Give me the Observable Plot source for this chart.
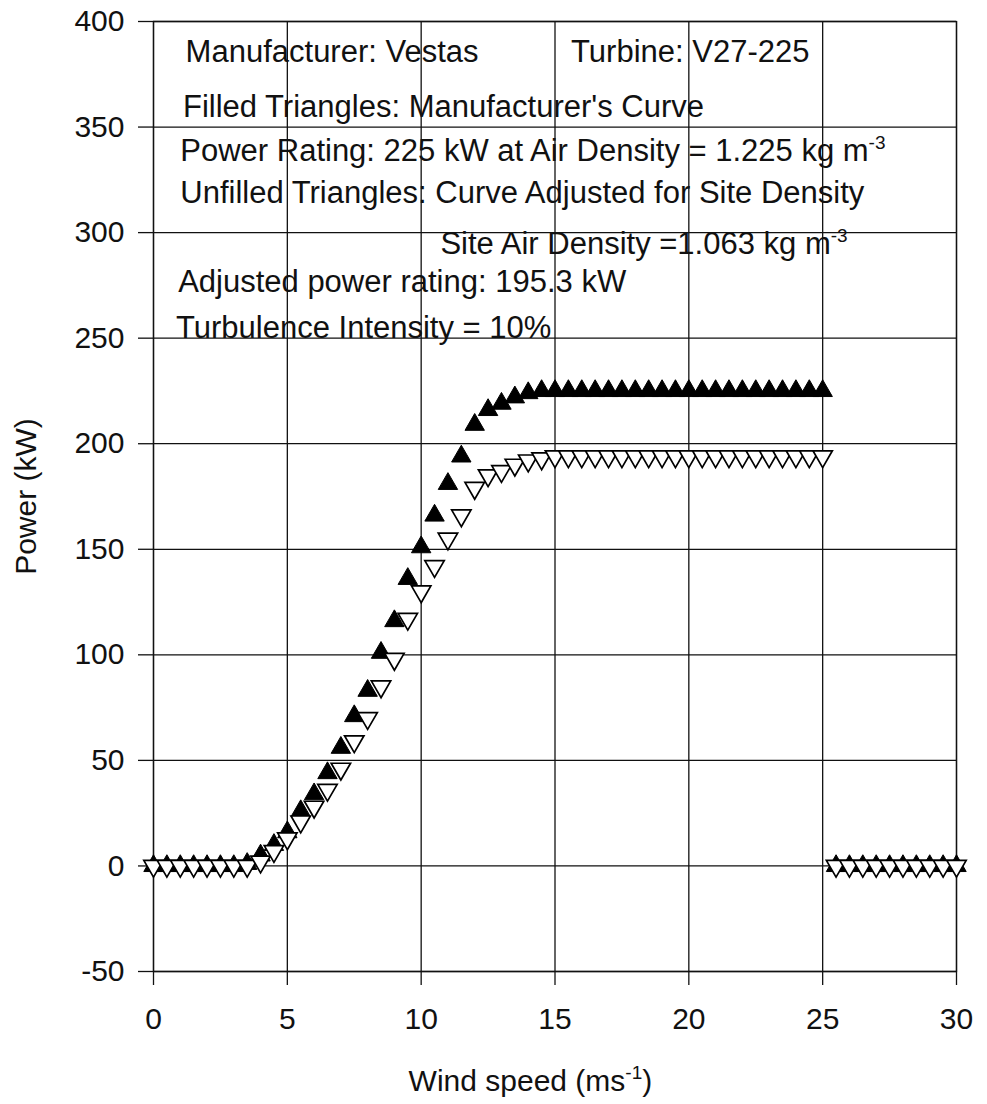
<!DOCTYPE html>
<html><head><meta charset="utf-8">
<script src="https://cdn.jsdelivr.net/npm/d3@7"></script>
<script src="https://cdn.jsdelivr.net/npm/@observablehq/plot@0.6"></script>
<style>html,body{margin:0;padding:0;background:#fff;} svg{display:block;}</style>
</head><body><div id="chart"></div>
<script>
// Wind speed (m/s)
const windSpeed = [0,0.5,1,1.5,2,2.5,3,3.5,4,4.5,5,5.5,6,6.5,7,7.5,8,8.5,9,9.5,10,10.5,11,11.5,12,12.5,13,13.5,14,14.5,15,15.5,16,16.5,17,17.5,18,18.5,19,19.5,20,20.5,21,21.5,22,22.5,23,23.5,24,24.5,25,25.5,26,26.5,27,27.5,28,28.5,29,29.5,30];
// Filled triangles: manufacturer's curve (kW)
const manufacturerPower = [0,0,0,0,0,0,0,1,5,10,16,26,34,44,56,71,83,101,116,136,151,166,181,194,209,216,219,222,224,225,
  225,225,225,225,225,225,225,225,225,225,225,225,225,225,225,225,225,225,225,225,225,
  0,0,0,0,0,0,0,0,0,0];
// Unfilled triangles: curve adjusted for site density (kW)
const adjustedPower = [0,0,0,0,0,0,0,0,2,7,13,21,28,36,46,59,70,85,98,117,130,142,155,166,179,185,187,190,192,193,
  194,194,194,194,194,194,194,194,194,194,194,194,194,194,194,194,194,194,194,194,194,
  0,0,0,0,0,0,0,0,0,0];

const xTicks = [0,5,10,15,20,25,30];
const yTicks = [-50,0,50,100,150,200,250,300,350,400];

const annotationTexts = [
  "Manufacturer: Vestas",
  "Turbine: V27-225",
  "Filled Triangles: Manufacturer's Curve",
  "Power Rating: 225 kW at Air Density = 1.225 kg m^-3",
  "Unfilled Triangles: Curve Adjusted for Site Density",
  "Site Air Density =1.063 kg m^-3",
  "Adjusted power rating: 195.3 kW",
  "Turbulence Intensity = 10%"
];
const xTitle = "Wind speed (ms^-1)";
const yTitle = "Power (kW)";

// layout (data-space anchor positions for the annotation text)
const annX = [1.2, 15.6, 1.1, 1.0, 1.0, 10.72, 0.92, 0.84];
const annY = [385.5, 385.5, 359.4, 338.4, 318.5, 294.8, 276.4, 255.0];

const pts = windSpeed.map((w, i) => ({w, m: manufacturerPower[i], a: adjustedPower[i]}));
const ann = annotationTexts.map((t, i) => ({t, x: annX[i], y: annY[i]}));

const ink = "#111";
const chart = Plot.plot({
  width: 987, height: 1104,
  marginLeft: 153, marginRight: 31, marginTop: 21, marginBottom: 133,
  style: {fontFamily: "'Liberation Sans', Arial, sans-serif", fontSize: "30px", background: "#fff", color: ink},
  x: {domain: [0, 30], label: null},
  y: {domain: [-50, 400], label: null},
  marks: [
    Plot.gridX(xTicks, {stroke: ink, strokeOpacity: 1, strokeWidth: 1.3}),
    Plot.gridY(yTicks, {stroke: ink, strokeOpacity: 1, strokeWidth: 1.3}),
    Plot.frame({stroke: ink, strokeWidth: 1.3}),
    Plot.axisX({ticks: xTicks, tickSize: 14, tickPadding: 22, tickFormat: d => String(d), label: null, strokeWidth: 1.3, fontSize: 30}),
    Plot.axisY({ticks: yTicks, tickSize: 15, tickPadding: 14, tickFormat: d => String(d), label: null, strokeWidth: 1.3, fontSize: 30}),
    Plot.dot(pts, {x: "w", y: "m", symbol: "triangle", r: 7.2, fill: "#000", stroke: "#000", strokeWidth: 1}),
    Plot.dot(pts, {x: "w", y: "a", symbol: "triangle", rotate: 180, r: 7.2, fill: "#fff", stroke: "#000", strokeWidth: 1.7}),
    Plot.text(ann, {x: "x", y: "y", text: "t", textAnchor: "start", lineAnchor: "middle", fontSize: 31, fill: ink}),
    Plot.text([xTitle], {x: 9.53, y: -102.1, text: d => d, textAnchor: "start", lineAnchor: "middle", fontSize: 30, fill: ink}),
    Plot.text([yTitle], {x: -4.74, y: 175, text: d => d, rotate: -90, textAnchor: "middle", lineAnchor: "middle", fontSize: 30, fill: ink})
  ]
});

// superscripts written as "^"
d3.select(chart).selectAll("text").each(function() {
  const t = this.textContent;
  if (!t.includes("^")) return;
  const m = t.match(/^(.*)\^([-0-9]+)(.*)$/);
  if (!m) return;
  const sel = d3.select(this);
  sel.text(null);
  sel.append("tspan").text(m[1]);
  sel.append("tspan").attr("dy", "-12px").attr("font-size", "19px").text(m[2]);
  if (m[3]) sel.append("tspan").attr("dy", "12px").text(m[3]);
});

document.getElementById("chart").appendChild(chart);
</script>
</body></html>
